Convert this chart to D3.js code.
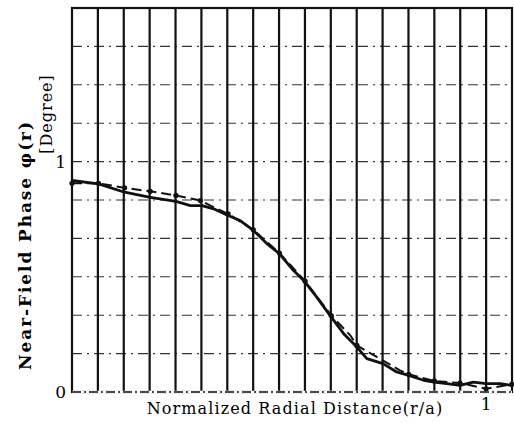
<!DOCTYPE html>
<html>
<head>
<meta charset="utf-8">
<script src="https://cdn.jsdelivr.net/npm/d3@7"></script>
<style>
  body { margin: 0; background: #fff; }
</style>
</head>
<body>
<div id="chart"></div>
<script>
// values
const solidX = [0, 0.064, 0.127, 0.189, 0.251, 0.286, 0.314, 0.342, 0.377, 0.406, 0.438, 0.471, 0.501, 0.535, 0.563, 0.591, 0.626, 0.656, 0.688, 0.712, 0.751, 0.784, 0.813, 0.849, 0.875, 0.905, 0.937, 0.969, 1.0, 1.034, 1.062];
const solidY = [0.918, 0.903, 0.867, 0.845, 0.827, 0.809, 0.809, 0.795, 0.766, 0.744, 0.701, 0.643, 0.600, 0.527, 0.477, 0.412, 0.325, 0.253, 0.195, 0.145, 0.123, 0.087, 0.072, 0.051, 0.043, 0.036, 0.029, 0.043, 0.036, 0.036, 0.029];

const dashX = [0, 0.064, 0.127, 0.189, 0.251, 0.310, 0.342, 0.377, 0.438, 0.501, 0.563, 0.626, 0.672, 0.688, 0.736, 0.792, 0.813, 0.875, 0.937, 1.0, 1.062];
const dashY = [0.906, 0.906, 0.886, 0.871, 0.853, 0.831, 0.802, 0.773, 0.704, 0.603, 0.481, 0.332, 0.246, 0.202, 0.152, 0.094, 0.077, 0.048, 0.039, 0.014, 0.033];

const yTicks = [0, 1];
const xTicks = [1];

const width = 514;
const height = 423;
const margin = { top: 8, right: 2, bottom: 31, left: 72 };
const w = width - margin.left - margin.right;
const h = height - margin.top - margin.bottom;
const serif = "'DejaVu Serif', 'Liberation Serif', serif";

const x = d3.scaleLinear().domain([0, 17 / 16]).range([0, w]);
const y = d3.scaleLinear().domain([0, 10 / 6]).range([h, 0]);

const svg = d3.select("#chart").append("svg")
  .attr("width", width)
  .attr("height", height);

const g = svg.append("g")
  .attr("transform", `translate(${margin.left},${margin.top})`);

// horizontal grid, dash-dot
g.selectAll(".hgrid")
  .data(d3.range(1, 10).map(i => i / 6))
  .enter().append("line")
  .attr("x1", 0).attr("x2", w)
  .attr("y1", d => y(d)).attr("y2", d => y(d))
  .attr("stroke", "#333")
  .attr("stroke-width", 1.1)
  .attr("stroke-dasharray", "10,5,2,5");

// vertical grid, thick solid
g.selectAll(".vgrid")
  .data(d3.range(1, 17).map(i => i / 16))
  .enter().append("line")
  .attr("x1", d => x(d)).attr("x2", d => x(d))
  .attr("y1", 0).attr("y2", h)
  .attr("stroke", "#111")
  .attr("stroke-width", 2.2);

// frame
g.append("rect")
  .attr("width", w).attr("height", h)
  .attr("fill", "none")
  .attr("stroke", "#111")
  .attr("stroke-width", 2.2);

// bottom edge drawn dash-dot like the reference
g.append("line")
  .attr("x1", 0).attr("x2", w).attr("y1", h).attr("y2", h)
  .attr("stroke", "#fff").attr("stroke-width", 2.4);
g.append("line")
  .attr("x1", 0).attr("x2", w).attr("y1", h).attr("y2", h)
  .attr("stroke", "#111").attr("stroke-width", 1.6)
  .attr("stroke-dasharray", "9,3,2,3");

const line = d3.line().x(d => x(d[0])).y(d => y(d[1]));

const solid = solidX.map((d, i) => [d, solidY[i]]);
const dashed = dashX.map((d, i) => [d, dashY[i]]);

g.append("path")
  .datum(dashed)
  .attr("d", line)
  .attr("fill", "none")
  .attr("stroke", "#111")
  .attr("stroke-width", 2)
  .attr("stroke-dasharray", "10,5");

g.append("path")
  .datum(solid)
  .attr("d", line)
  .attr("fill", "none")
  .attr("stroke", "#111")
  .attr("stroke-width", 2.8)
  .attr("stroke-linejoin", "round");

// dots where the curves cross grid lines
g.selectAll(".dot")
  .data(dashed.filter(d => Math.abs(d[0] * 16 - Math.round(d[0] * 16)) < 0.1))
  .enter().append("circle")
  .attr("cx", d => x(d[0]))
  .attr("cy", d => y(d[1]))
  .attr("r", 2.6)
  .attr("fill", "#111");

// tick labels
g.selectAll(".ylab")
  .data(yTicks)
  .enter().append("text")
  .attr("x", -6)
  .attr("y", d => y(d) + 6)
  .attr("text-anchor", "end")
  .attr("font-family", serif)
  .attr("font-size", 17)
  .text(d => d);

g.selectAll(".xlab")
  .data(xTicks)
  .enter().append("text")
  .attr("x", d => x(d))
  .attr("y", h + 18)
  .attr("text-anchor", "middle")
  .attr("font-family", serif)
  .attr("font-size", 17)
  .text(d => d);

// axis titles
svg.append("text")
  .attr("transform", "translate(31,245) rotate(-90)")
  .attr("text-anchor", "middle")
  .attr("font-family", serif)
  .attr("font-size", 17)
  .attr("font-weight", "bold")
  .attr("letter-spacing", 1.9)
  .text("Near-Field Phase φ(r)");

svg.append("text")
  .attr("transform", "translate(52,114) rotate(-90)")
  .attr("text-anchor", "middle")
  .attr("font-family", serif)
  .attr("font-size", 16)
  .attr("letter-spacing", 1)
  .text("[Degree]");

svg.append("text")
  .attr("x", 295)
  .attr("y", 414)
  .attr("text-anchor", "middle")
  .attr("font-family", serif)
  .attr("font-size", 16)
  .attr("letter-spacing", 1.1)
  .text("Normalized Radial Distance(r/a)");
</script>
</body>
</html>
